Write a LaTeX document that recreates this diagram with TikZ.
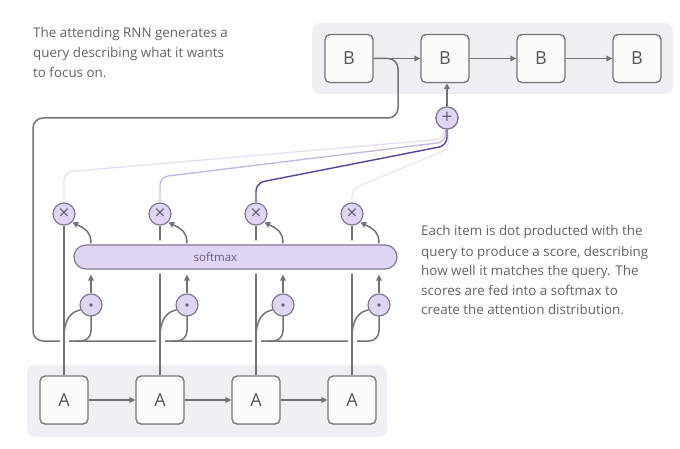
\documentclass[tikz,border=0pt]{standalone}
\usepackage{fontspec}
\setmainfont{Open Sans}
\usetikzlibrary{arrows.meta,shadows,calc}
\definecolor{lineg}{HTML}{737373}
\definecolor{boxb}{HTML}{767676}
\definecolor{boxf}{HTML}{FBFBFB}
\definecolor{contf}{HTML}{F0F0F4}
\definecolor{circf}{HTML}{E0D5F3}
\definecolor{circb}{HTML}{807893}
\definecolor{symc}{HTML}{675D78}
\definecolor{labc}{HTML}{555555}
\definecolor{txtc}{HTML}{626262}
\definecolor{qa}{HTML}{E7E0F3}
\definecolor{qb}{HTML}{C6B8E4}
\definecolor{qc}{HTML}{5B409E}
\definecolor{qd}{HTML}{ECE6F5}
\begin{document}
\begin{tikzpicture}[x=1pt,y=-1pt,
  container/.style={fill=contf, rounded corners=8pt},
  box/.style={draw=boxb, fill=boxf, rounded corners=5pt, minimum size=48pt, inner sep=0pt,
    line width=1.3pt, font=\fontsize{18}{20}\selectfont, text=labc,
    drop shadow={shadow xshift=0pt, shadow yshift=-1pt, opacity=0.18}},
  circ/.style={circle, draw=circb, fill=circf, minimum size=22pt, inner sep=0pt, line width=1.2pt,
    text=symc, font=\fontsize{19}{19}\selectfont},
  conn/.style={draw=lineg, line width=1.5pt},
  arr/.style={conn, -{Triangle[length=6pt,width=5.5pt]}},
  halo/.style={preaction={draw=white, line width=9pt}},
  desc/.style={anchor=base west, inner sep=0pt, text=txtc, font=\fontsize{13.4}{15}\selectfont},
  qline/.style={line width=1.4pt, rounded corners=8pt}
]
\useasboundingbox (0,0) rectangle (680,449);
% containers
\fill[container] (312,23) rectangle (673,94);
\fill[container] (27,365) rectangle (387,437);
% texts
\node[desc] (tq1) at (33,38) {The attending RNN generates a};
\node[desc] (tq2) at (33,58) {query describing what it wants};
\node[desc] (tq3) at (33,77.5) {to focus on.};
\node[desc] (ts1) at (421,236) {Each item is dot producted with the};
\node[desc] (ts2) at (421,256) {query to produce a score, describing};
\node[desc] (ts3) at (421,275.5) {how well it matches the query. The};
\node[desc] (ts4) at (421,295) {scores are fed into a softmax to};
\node[desc] (ts5) at (421,314.5) {create the attention distribution.};
% coordinates of nodes
\coordinate (px1) at (64,214); \coordinate (px2) at (160,214);
\coordinate (px3) at (256,214); \coordinate (px4) at (352,214);
\coordinate (pd1) at (91,305); \coordinate (pd2) at (187,305);
\coordinate (pd3) at (283,305); \coordinate (pd4) at (379,305);
% B nodes
\node[box] (B1) at (349,58.5) {B};
\node[box] (B2) at (445,58.5) {B};
\node[box] (B3) at (541,58.5) {B};
\node[box] (B4) at (637,58.5) {B};
% A nodes
\node[box] (A1) at (64,400) {A};
\node[box] (A2) at (160,400) {A};
\node[box] (A3) at (256,400) {A};
\node[box] (A4) at (352,400) {A};
% multiply circles
\path (px1) node[circ] (x1) {×} (px2) node[circ] (x2) {×}
      (px3) node[circ] (x3) {×} (px4) node[circ] (x4) {×};
% query path
\draw[conn, rounded corners=10pt] (B1.east) -- (398,58.5) -- (398,118) -- (33,118) -- (33,341) -- (379,341) -- (379,316);
\foreach \xx in {91,187,283}{
  \draw[conn, rounded corners=10pt] (\xx,316) -- (\xx,341) -- (\xx-16,341);
}
% sequence arrows
\draw[arr] (B1) -- (B2);
\draw[arr] (B2) -- (B3);
\draw[arr] (B3) -- (B4);
\draw[arr] (A1) -- (A2);
\draw[arr] (A2) -- (A3);
\draw[arr] (A3) -- (A4);
% verticals from A
\foreach \i/\xx in {1/64,2/160,3/256,4/352}{
  \draw[conn] (A\i.north) -- (x\i.south);
  \draw[conn, halo] (\xx,350) -- (\xx,332);
}
% softmax bar
\node[draw=circb, fill=circf, rounded corners=12pt, line width=1.2pt,
  minimum width=323pt, minimum height=24pt, inner sep=0pt, halo] (sm) at (235.5,257) {};
\node[text=symc, font=\fontsize{11.5}{11.5}\selectfont, inner sep=0pt] (smlabel) at (215.5,257) {softmax};
% dot circles
\node[circ] (d1) at (pd1) {};
\node[circ] (d2) at (pd2) {};
\node[circ] (d3) at (pd3) {};
\node[circ] (d4) at (pd4) {};
\foreach \i in {1,...,4}{ \fill[symc] (d\i) circle (1.9pt); }
% A line to dot curves, dot to softmax, softmax to multiply
\foreach \i/\xx in {1/64,2/160,3/256,4/352}{
  \draw[conn] (\xx,338) .. controls (\xx,320) and (\xx+6,312) .. (d\i.205);
  \draw[arr, shorten >=5pt] (d\i.north) -- (d\i.north |- sm.south);
  \draw[arr] ($(d\i.north |- sm.north)+(0,-1)$) .. controls ($(d\i.north |- sm.north)+(0,-13)$) and ($(x\i.-45)+(12,6)$) .. (x\i.-45);
}
% query lines to plus
\node[circ] (plus) at (447,118) {+};
\draw[qline, draw=qa] (x1.north) -- (64,172) -- (444,139) -- ($(plus.south)+(-3,0)$);
\draw[qline, draw=qb] (x2.north) -- (160,177) -- (445.5,142) -- ($(plus.south)+(-1.5,0)$);
\draw[qline, draw=qd] (x4.north) -- (352,189) -- (448.5,149) -- ($(plus.south)+(1.5,0)$);
\draw[qline, draw=qc] (x3.north) -- (256,183) -- (447,145.5) -- ($(plus.south)+(0,0)$);
\node[circ] at (plus) {+};
\draw[arr] (plus.north) -- (plus.north |- B2.south);
\end{tikzpicture}
\end{document}
